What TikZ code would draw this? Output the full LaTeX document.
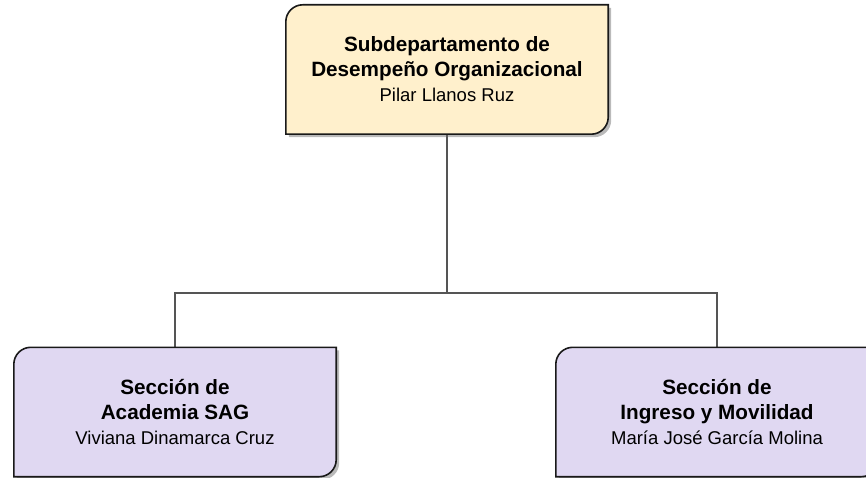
\documentclass[tikz,border=0pt]{standalone}
\usepackage{fontspec}
\setmainfont{Liberation Sans}
\usetikzlibrary{shadows,backgrounds}
\definecolor{subfill}{HTML}{FFF0CC}
\definecolor{secfill}{HTML}{E0D8F2}
\definecolor{linkgray}{HTML}{555555}
\newcommand{\namefont}{\fontsize{18.5}{23}\selectfont\mdseries}
\newcommand{\unitshape}[2]{%
  \draw[unitline, fill=#2, drop shadow={shadow xshift=3pt, shadow yshift=-3pt, opacity=.45, fill=black!60}]
    (#1.north east) -- ([yshift=17pt]#1.south east) arc[start angle=0, end angle=-90, radius=17pt]
    -- (#1.south west) -- ([yshift=-17pt]#1.north west) arc[start angle=180, end angle=90, radius=17pt]
    -- cycle;}
\tikzset{
  unitbox/.style={minimum width=322pt, minimum height=129pt, align=center, inner sep=0pt,
    font=\fontsize{20.7}{25}\selectfont\bfseries},
  unitline/.style={draw=black!90, line width=1.6pt},
  link/.style={draw=linkgray, line width=1.3pt}
}
\begin{document}
\begin{tikzpicture}[x=1pt,y=1pt]
    \useasboundingbox (0,0) rectangle (866,477);
    \node[unitbox] (sub) at (447,407.5) {Subdepartamento de\\ Desempeño Organizacional\\ \namefont Pilar Llanos Ruz};
    \node[unitbox] (aca) at (175,65) {Sección de\\ Academia SAG\\ \namefont Viviana Dinamarca Cruz};
    \node[unitbox] (ing) at (717,65) {Sección de\\ Ingreso y Movilidad\\ \namefont María José García Molina};
    \coordinate (bus) at (447,184);
    \begin{scope}[on background layer]
    \draw[link] (sub.south) -- (bus);
    \draw[link] (aca.north) |- (bus) -| (ing.north);
    \unitshape{sub}{subfill}
    \unitshape{aca}{secfill}
    \unitshape{ing}{secfill}
    \end{scope}
\end{tikzpicture}
\end{document}
